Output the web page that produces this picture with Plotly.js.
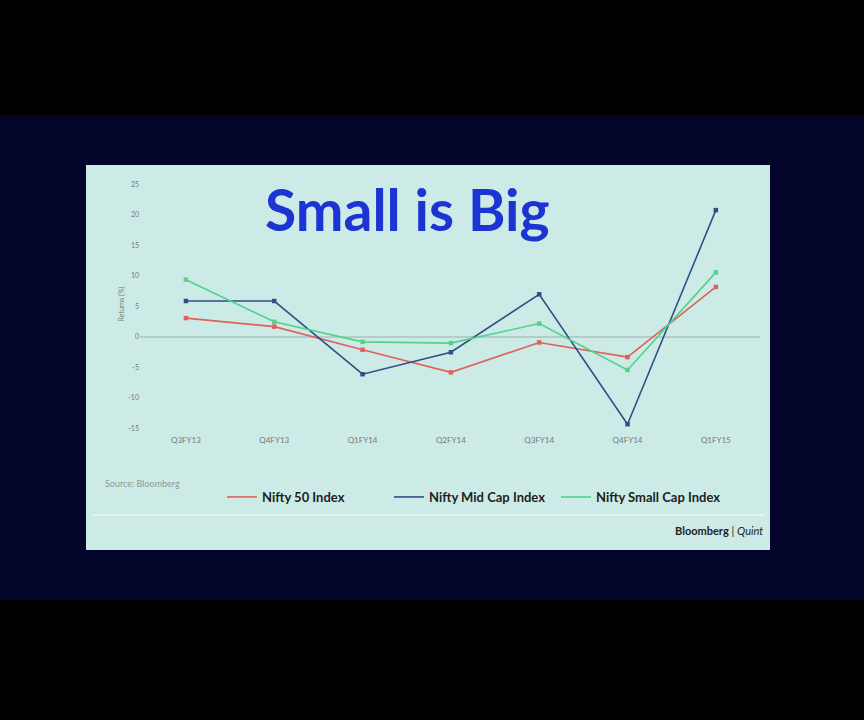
<!DOCTYPE html>
<html>
<head>
<meta charset="utf-8">
<script src="https://cdn.plot.ly/plotly-3.0.1.min.js"></script>
<style>html,body{margin:0;padding:0;background:#000;}#chart{width:864px;height:720px;}</style>
</head>
<body>
<div id="chart"></div>
<script>
const categories = ["Q3FY13", "Q4FY13", "Q1FY14", "Q2FY14", "Q3FY14", "Q4FY14", "Q1FY15"];
const nifty50 = [3.1, 1.7, -2.1, -5.8, -0.9, -3.3, 8.2];
const niftyMidCap = [5.9, 5.9, -6.1, -2.5, 7.0, -14.3, 20.8];
const niftySmallCap = [9.4, 2.5, -0.8, -1.0, 2.2, -5.4, 10.6];
const yTicks = [-15, -10, -5, 0, 5, 10, 15, 20, 25];

function series(name, y, color) {
  return [
    {
      type: "scatter", mode: "lines", name: name,
      x: categories, y: y,
      line: {color: color, width: 1.6}
    },
    {
      type: "scatter", mode: "markers", name: name, showlegend: false,
      x: categories, y: y,
      marker: {color: color, size: 4.5, symbol: "square"}
    }
  ];
}

const data = [].concat(
  series("<b>Nifty 50 Index</b>", nifty50, "#e0605a"),
  series("<b>Nifty Mid Cap Index</b>", niftyMidCap, "#2f4f86"),
  series("<b>Nifty Small Cap Index</b>", niftySmallCap, "#52d28c")
);

// plot area: x 140..760 px, y 178..430 px
const px = v => (v - 140) / 620;
const py = v => (430 - v) / 252;

const layout = {
  width: 864, height: 720,
  paper_bgcolor: "#000000",
  plot_bgcolor: "rgba(0,0,0,0)",
  margin: {l: 140, r: 104, t: 178, b: 290},
  showlegend: true,
  legend: {
    orientation: "h", x: px(222), y: py(497), xanchor: "left", yanchor: "middle",
    bgcolor: "rgba(0,0,0,0)",
    font: {family: "Lato, 'DejaVu Sans', sans-serif", size: 13, color: "#222"},
    itemwidth: 30, entrywidth: 122, entrywidthmode: "pixels"
  },
  xaxis: {
    type: "category", range: [-0.52, 6.5],
    showgrid: false, zeroline: false, showline: false,
    ticks: "", tickfont: {family: "Lato, sans-serif", size: 8, color: "#777"},
    ticklabelstandoff: 4
  },
  yaxis: {
    range: [-15.25, 26.07],
    tickvals: yTicks, ticktext: yTicks.map(String),
    showgrid: false, zeroline: true, zerolinecolor: "#b5cdc9", zerolinewidth: 1.5,
    showline: false, ticks: "",
    tickfont: {family: "Lato, sans-serif", size: 7, color: "#777"},
    title: {text: "Returns (%)", font: {family: "Lato, sans-serif", size: 7, color: "#777"}, standoff: 2}
  },
  shapes: [
    {type: "rect", xref: "paper", yref: "paper", x0: px(-10), x1: px(874), y0: py(600), y1: py(115),
     fillcolor: "#03042a", line: {width: 0}, layer: "below"},
    {type: "rect", xref: "paper", yref: "paper", x0: px(86), x1: px(770), y0: py(550), y1: py(165),
     fillcolor: "#cdebe6", line: {width: 0}, layer: "below"},
    {type: "line", xref: "paper", yref: "paper", x0: px(92), x1: px(765), y0: py(515), y1: py(515),
     line: {color: "#e6f6f3", width: 1.5}, layer: "below"}
  ],
  annotations: [
    {text: "<b>Small is Big</b>", xref: "paper", yref: "paper", x: px(407), y: py(209),
     showarrow: false, xanchor: "center", yanchor: "middle",
     font: {family: "Lato, 'Open Sans', sans-serif", size: 57, color: "#1b34d2"}},
    {text: "Source: Bloomberg", xref: "paper", yref: "paper", x: px(103), y: py(483),
     showarrow: false, xanchor: "left", yanchor: "middle",
     font: {family: "Lato, sans-serif", size: 9, color: "#8a9a98"}},
    {text: "<b>Bloomberg</b> | <i>Quint</i>", xref: "paper", yref: "paper", x: px(765), y: py(530),
     showarrow: false, xanchor: "right", yanchor: "middle",
     font: {family: "Lato, sans-serif", size: 11, color: "#222"}}
  ]
};

Plotly.newPlot("chart", data, layout, {displayModeBar: false, staticPlot: true});
</script>
</body>
</html>
